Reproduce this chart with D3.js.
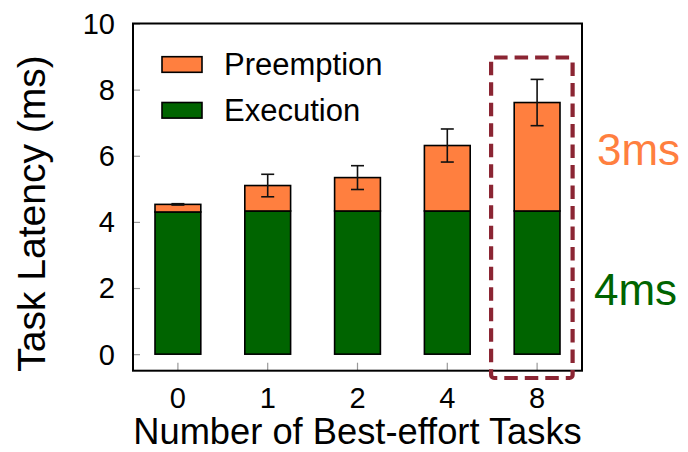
<!DOCTYPE html>
<html>
<head>
<meta charset="utf-8">
<script src="https://cdn.jsdelivr.net/npm/d3@7"></script>
<style>
  html, body { margin: 0; padding: 0; background: #fff; }
  svg { display: block; font-family: "Liberation Sans", Arial, Helvetica, sans-serif; }
</style>
</head>
<body>
<svg id="chart" width="688" height="452"></svg>
<script>
// Task latency split into execution and preemption time, per best-effort load
const categories = ["0", "1", "2", "4", "8"];
const execution  = [4.30, 4.33, 4.33, 4.33, 4.33];
const preemption = [0.23, 0.77, 1.01, 1.98, 3.28];
const errorHalf  = [0.02, 0.34, 0.36, 0.50, 0.70];
const yTicks = [0, 2, 4, 6, 8, 10];
const seriesNames = ["Preemption", "Execution"];
const highlighted = "8";
const notes = [{ text: "3ms", key: "Preemption" }, { text: "4ms", key: "Execution" }];

const colors = { Preemption: "#ff7f3f", Execution: "#006400" };

const svg = d3.select("#chart");
const frame = { left: 133, top: 23.5, right: 582, bottom: 370.7 };

const x = d3.scaleBand().domain(categories).range([frame.left, frame.right]).paddingInner(0.49).paddingOuter(0.245);
const y = d3.scaleLinear().domain([-0.5, 10]).range([frame.bottom, frame.top]);

const rows = categories.map((c, i) => ({
  cat: c, exec: execution[i], pre: preemption[i], err: errorHalf[i],
  total: execution[i] + preemption[i]
}));

// inward tick marks
const yAxis = d3.axisLeft(y).tickValues(yTicks).tickSize(-7).tickFormat("");
svg.append("g").attr("transform", `translate(${frame.left},0)`).call(yAxis)
  .call(g => g.select(".domain").remove())
  .call(g => g.selectAll(".tick line").attr("stroke", "#999").attr("stroke-width", 1.2));
const xAxis = d3.axisBottom(x).tickSize(-8).tickFormat("");
svg.append("g").attr("transform", `translate(0,${frame.bottom})`).call(xAxis)
  .call(g => g.select(".domain").remove())
  .call(g => g.selectAll(".tick line").attr("stroke", "#999").attr("stroke-width", 1.2));

// tick labels
svg.append("g").selectAll("text").data(yTicks).join("text")
  .attr("x", 115).attr("y", d => y(d)).attr("dy", "0.36em")
  .attr("text-anchor", "end").attr("font-size", 29).attr("fill", "#000")
  .text(d => d);
svg.append("g").selectAll("text").data(categories).join("text")
  .attr("x", d => x(d) + x.bandwidth() / 2).attr("y", 407.5)
  .attr("text-anchor", "middle").attr("font-size", 29).attr("fill", "#000")
  .text(d => d);

// stacked bars
const bars = svg.append("g");
bars.selectAll("rect.exec").data(rows).join("rect").attr("class", "exec")
  .attr("x", d => x(d.cat)).attr("width", x.bandwidth())
  .attr("y", d => y(d.exec)).attr("height", d => y(0) - y(d.exec))
  .attr("fill", colors.Execution).attr("stroke", "#000").attr("stroke-width", 1.6);
bars.selectAll("rect.pre").data(rows).join("rect").attr("class", "pre")
  .attr("x", d => x(d.cat)).attr("width", x.bandwidth())
  .attr("y", d => y(d.total)).attr("height", d => y(d.exec) - y(d.total))
  .attr("fill", colors.Preemption).attr("stroke", "#000").attr("stroke-width", 1.6);

// error bars
const eb = svg.append("g").attr("stroke", "#111").attr("stroke-width", 1.6);
rows.forEach(d => {
  const cx = x(d.cat) + x.bandwidth() / 2;
  const y1 = y(d.total + d.err), y2 = y(d.total - d.err);
  eb.append("line").attr("x1", cx).attr("x2", cx).attr("y1", y1).attr("y2", y2);
  eb.append("line").attr("x1", cx - 6.5).attr("x2", cx + 6.5).attr("y1", y1).attr("y2", y1);
  eb.append("line").attr("x1", cx - 6.5).attr("x2", cx + 6.5).attr("y1", y2).attr("y2", y2);
});

// plot frame
svg.append("rect").attr("x", frame.left).attr("y", frame.top)
  .attr("width", frame.right - frame.left).attr("height", frame.bottom - frame.top)
  .attr("fill", "none").attr("stroke", "#000").attr("stroke-width", 2);

// legend
const legend = svg.append("g");
seriesNames.forEach((name, i) => {
  const ly = 64.5 + i * 45.8;
  legend.append("rect").attr("x", 162).attr("y", ly - 7.8).attr("width", 40).attr("height", 15.6)
    .attr("fill", colors[name]).attr("stroke", "#000").attr("stroke-width", 1.6);
  legend.append("text").attr("x", 224).attr("y", ly + 10.8)
    .attr("font-size", 31).attr("fill", "#000").text(name);
});

// highlight box around the heaviest load
const hx = x(highlighted) + x.bandwidth() / 2;
svg.append("rect").attr("x", hx - 46).attr("y", 57.5).attr("width", 81.5).attr("height", 320.5)
  .attr("rx", 3).attr("fill", "none").attr("stroke", "#8b2533").attr("stroke-width", 4.2)
  .attr("stroke-dasharray", "13.5,7");

// side annotations
svg.append("text").attr("x", 597).attr("y", 165).attr("font-size", 44).attr("fill", colors.Preemption).text(notes[0].text);
svg.append("text").attr("x", 594).attr("y", 305).attr("font-size", 44).attr("fill", colors.Execution).text(notes[1].text);

// axis titles
svg.append("text").attr("transform", `translate(45,${(378 + 49) / 2}) rotate(-90)`)
  .attr("text-anchor", "middle").attr("font-size", 39).attr("fill", "#000")
  .text("Task Latency (ms)");
svg.append("text").attr("x", (frame.left + frame.right) / 2).attr("y", 444)
  .attr("text-anchor", "middle").attr("font-size", 36.3).attr("fill", "#000")
  .text("Number of Best-effort Tasks");
</script>
</body>
</html>
